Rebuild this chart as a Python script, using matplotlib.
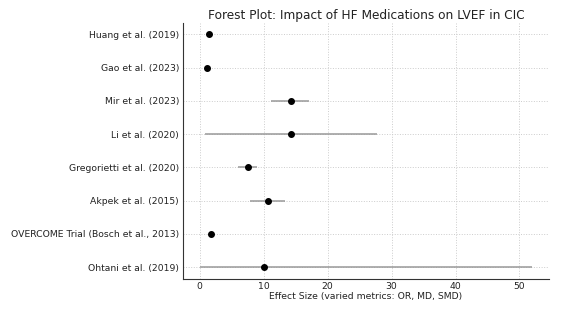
import matplotlib.pyplot as plt

studies = ["Huang et al. (2019)", "Gao et al. (2023)", "Mir et al. (2023)", "Li et al. (2020)",
           "Gregorietti et al. (2020)", "Akpek et al. (2015)",
           "OVERCOME Trial (Bosch et al., 2013)", "Ohtani et al. (2019)"]
effect = [1.5, 1.2, 14.2, 14.3, 7.5, 10.6, 1.8, 10.0]
ci_low = [1.5, 1.2, 11.2, 0.8, 6.0, 7.8, 1.8, 0.0]
ci_high = [1.5, 1.2, 17.1, 27.7, 8.9, 13.4, 1.8, 52.0]

fig, ax = plt.subplots(figsize=(5.67, 3.25), dpi=100)
fig.subplots_adjust(left=0.323, right=0.968, top=0.93, bottom=0.142)

y = list(range(len(studies)))[::-1]
err = [[e - l for e, l in zip(effect, ci_low)], [h - e for e, h in zip(effect, ci_high)]]
ax.errorbar(effect, y, xerr=err, fmt='o', color='black', ecolor='#999999',
            elinewidth=1.1, capsize=0, markersize=4)

ax.set_yticks(y)
ax.set_yticklabels(studies)
ax.set_xlabel("Effect Size (varied metrics: OR, MD, SMD)", fontsize=6.7, color='#222222', labelpad=1)
ax.set_title("Forest Plot: Impact of HF Medications on LVEF in CIC", fontsize=8.7, color='#222222', pad=3)
ax.tick_params(labelsize=6.7, colors='#222222', length=0, pad=3)
ax.tick_params(axis='x', pad=2)
ax.grid(True, linestyle=':', color='#cccccc', linewidth=0.7)
for s in ['top', 'right']:
    ax.spines[s].set_visible(False)
for s in ['left', 'bottom']:
    ax.spines[s].set_color('#333333')

fig.savefig("out.png")
